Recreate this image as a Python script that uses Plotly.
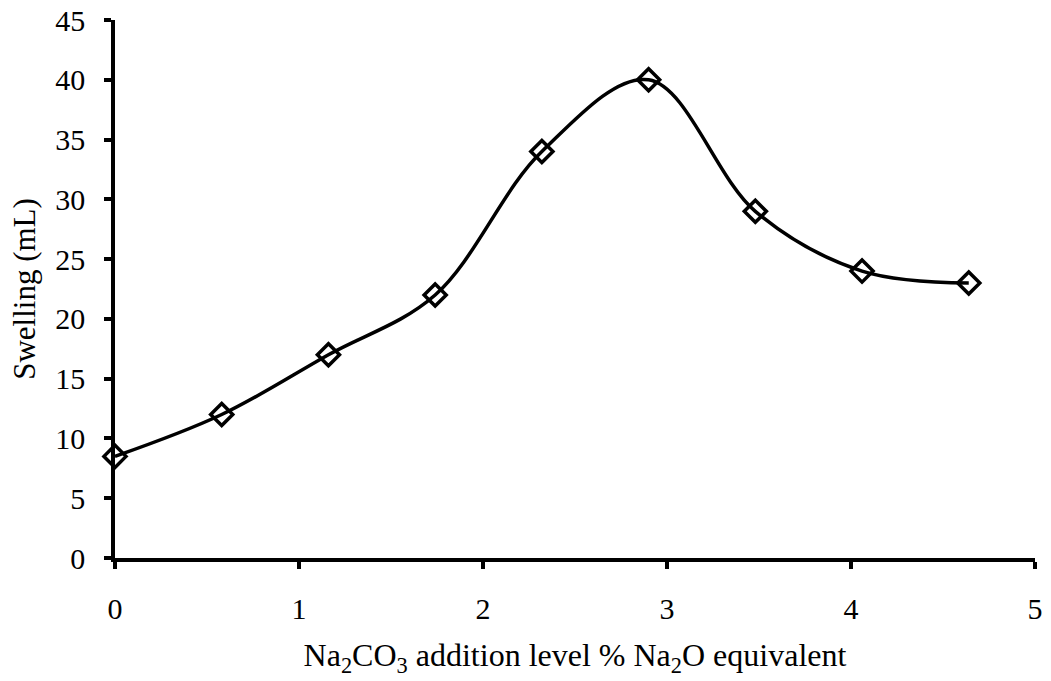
import plotly.graph_objects as go

x_level = [0, 0.58, 1.16, 1.74, 2.32, 2.90, 3.48, 4.06, 4.64]
swelling = [8.5, 12, 17, 22, 34, 40, 29, 24, 23]
x_ticks = [0, 1, 2, 3, 4, 5]
y_ticks = [0, 5, 10, 15, 20, 25, 30, 35, 40, 45]

font_family = "Liberation Serif, Times New Roman, serif"

fig = go.Figure()
fig.add_trace(go.Scatter(
    x=x_level, y=swelling, mode="lines+markers",
    line=dict(color="black", width=3.5, shape="spline", smoothing=1.0),
    marker=dict(symbol="diamond-open", size=17, color="black", line=dict(width=3.5, color="black")),
    cliponaxis=False, showlegend=False,
))

axis_common = dict(
    showline=True, linecolor="black", linewidth=3.5,
    ticks="outside", ticklen=7, tickwidth=3.5, tickcolor="black",
    showgrid=False, zeroline=False, automargin=False,
    tickfont=dict(family=font_family, size=30, color="black"),
)

fig.update_layout(
    width=1051, height=681,
    margin=dict(l=115, r=16, t=20, b=123),
    paper_bgcolor="white", plot_bgcolor="white",
    font=dict(family=font_family, color="black"),
    xaxis=dict(range=[0, 5], tickvals=x_ticks, ticklabelstandoff=14, **axis_common,
               title=dict(text="Na<sub>2</sub>CO<sub>3</sub> addition level % Na<sub>2</sub>O equivalent",
                          font=dict(family=font_family, size=32, color="black"), standoff=21)),
    yaxis=dict(range=[0, 45], tickvals=y_ticks, ticklabelstandoff=13, **axis_common,
               title=dict(text="Swelling (mL)", font=dict(family=font_family, size=31, color="black"), standoff=11)),
)

fig.write_html("out.html")
